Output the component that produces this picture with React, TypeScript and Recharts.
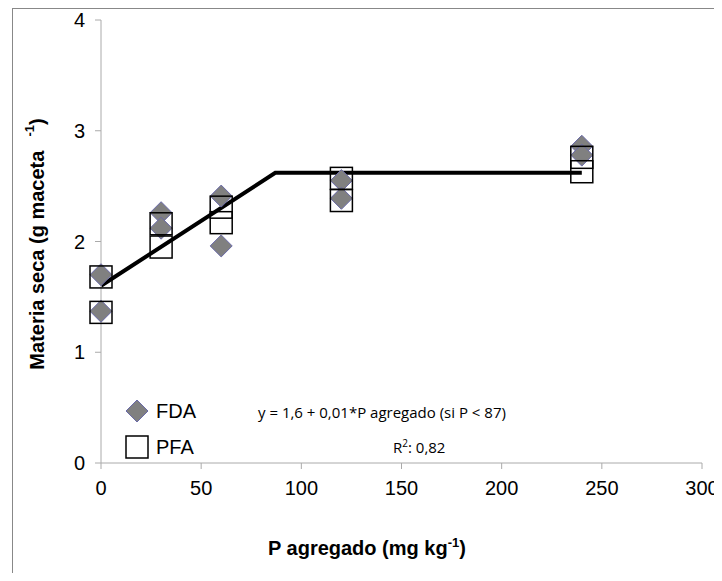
import { ComposedChart, Line, Scatter, XAxis, YAxis } from "recharts";

const fdaX = [0, 0, 30, 30, 60, 60, 120, 120, 240, 240];
const fdaY = [1.7, 1.37, 2.26, 2.12, 2.41, 1.96, 2.55, 2.39, 2.86, 2.78];
const pfaX = [0, 0, 30, 30, 60, 60, 120, 120, 240, 240];
const pfaY = [1.68, 1.36, 2.16, 1.95, 2.31, 2.17, 2.57, 2.37, 2.76, 2.63];
const fitX = [0, 87, 240];
const fitY = [1.6, 2.62, 2.62];
const xTicks = [0, 50, 100, 150, 200, 250, 300];
const yTicks = [0, 1, 2, 3, 4];

const fda = fdaX.map((x, i) => ({ x, y: fdaY[i] }));
const pfa = pfaX.map((x, i) => ({ x, y: pfaY[i] }));
const fit = fitX.map((x, i) => ({ x, y: fitY[i] }));

const Diamond = (p: any) => (
  <polygon
    points={`${p.cx},${p.cy - 11} ${p.cx + 11},${p.cy} ${p.cx},${p.cy + 11} ${p.cx - 11},${p.cy}`}
    fill="#808080"
    stroke="#6a6aa8"
    strokeWidth={1}
  />
);
const Square = (p: any) => (
  <rect x={p.cx - 11} y={p.cy - 11} width={22} height={22} fill="none" stroke="#000" strokeWidth={1.5} />
);

const tickStyle = { fontSize: 20, fill: "#000", fontFamily: "Liberation Sans, Arial" };

export default function App() {
  return (
    <div style={{ position: "relative", width: 722, height: 581, margin: -8, fontFamily: "Liberation Sans, Arial" }}>
      <div style={{ position: "absolute", left: 12, top: 8, width: 704, height: 569, border: "1px solid #888" }} />
      <ComposedChart width={722} height={581} margin={{ top: 20, right: 20, left: 41, bottom: 88 }}>
        <XAxis
          type="number"
          dataKey="x"
          domain={[0, 300]}
          ticks={xTicks}
          tick={tickStyle}
          tickSize={6}
          tickMargin={12}
          stroke="#aaa"
          height={30}
        />
        <YAxis type="number" dataKey="y" domain={[0, 4]} ticks={yTicks} tick={tickStyle} tickMargin={10} stroke="#aaa" width={60} />
        <Scatter data={fda} shape={Diamond} isAnimationActive={false} />
        <Scatter data={pfa} shape={Square} isAnimationActive={false} />
        <Line data={fit} dataKey="y" stroke="#000" strokeWidth={4} dot={false} isAnimationActive={false} />
      </ComposedChart>
      <div style={{ position: "absolute", left: 268, top: 535, fontSize: 20, fontWeight: "bold" }}>
        P agregado (mg kg<sup style={{ fontSize: 13 }}>-1</sup>)
      </div>
      <svg style={{ position: "absolute", left: 0, top: 0 }} width={722} height={581}>
        <text
          transform="translate(44,244) rotate(-90)"
          textAnchor="middle"
          fontSize={20}
          fontWeight="bold"
          fontFamily="Liberation Sans, Arial"
        >
          Materia seca (g maceta
          <tspan dx={14} dy={-10} fontSize={13}>-1</tspan>
          <tspan dy={10}>)</tspan>
        </text>
        <polygon points="137,400 148,411 137,422 126,411" fill="#808080" stroke="#6a6aa8" />
        <rect x={126} y={436} width={22} height={22} fill="none" stroke="#000" strokeWidth={1.5} />
      </svg>
      <div style={{ position: "absolute", left: 156, top: 400, fontSize: 20 }}>FDA</div>
      <div style={{ position: "absolute", left: 156, top: 436, fontSize: 20 }}>PFA</div>
      <div style={{ position: "absolute", left: 258, top: 402, fontSize: 15, fontFamily: "Open Sans" }}>
        y = 1,6 + 0,01*P agregado (si P &lt; 87)
      </div>
      <div style={{ position: "absolute", left: 393, top: 436, fontSize: 15, fontFamily: "Open Sans" }}>
        R<sup style={{ fontSize: 10 }}>2</sup>: 0,82
      </div>
    </div>
  );
}
